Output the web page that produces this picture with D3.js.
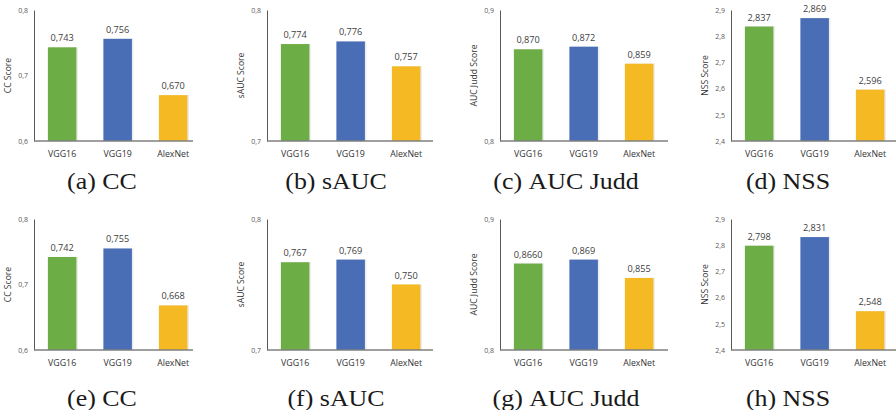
<!DOCTYPE html>
<html><head><meta charset="utf-8">
<script src="https://cdn.jsdelivr.net/npm/d3@7"></script>
<style>
html,body{margin:0;padding:0;background:#fff;}
svg{display:block;}
</style></head>
<body>
<svg id="chart" width="896" height="410"></svg>
<script>
// ---- data ----
const categories = ["VGG16", "VGG19", "AlexNet"];
const captionLetters = ["(a)", "(b)", "(c)", "(d)", "(e)", "(f)", "(g)", "(h)"];
const metricNames = ["CC", "sAUC", "AUC Judd", "NSS"];
const yAxisLabels = ["CC Score", "sAUC Score", "AUC Judd Score", "NSS Score"];
const yTicksCC = [0.6, 0.7, 0.8];
const yTicksSAUC = [0.7, 0.8];
const yTicksJudd = [0.8, 0.9];
const yTicksNSS = [2.4, 2.5, 2.6, 2.7, 2.8, 2.9];
const valuesA = [0.743, 0.756, 0.670];
const valuesB = [0.774, 0.776, 0.757];
const valuesC = [0.870, 0.872, 0.859];
const valuesD = [2.837, 2.869, 2.596];
const valuesE = [0.742, 0.755, 0.668];
const valuesF = [0.767, 0.769, 0.750];
const valuesG = [0.8660, 0.869, 0.855];
const valuesH = [2.798, 2.831, 2.548];
const labelsA = ["0,743", "0,756", "0,670"];
const labelsB = ["0,774", "0,776", "0,757"];
const labelsC = ["0,870", "0,872", "0,859"];
const labelsD = ["2,837", "2,869", "2,596"];
const labelsE = ["0,742", "0,755", "0,668"];
const labelsF = ["0,767", "0,769", "0,750"];
const labelsG = ["0,8660", "0,869", "0,855"];
const labelsH = ["2,798", "2,831", "2,548"];
const barColors = ["#6DAD45", "#4A6EB5", "#F4B923"];

// ---- layout ----
const colAxisX = [34, 267, 500, 731];
const colBaseEnd = [193, 433, 668, 896];
const colCaptionOffset = [68, 69, 66, 57];
const rows = [
  {top: 10, bottom: 141, catY: 157, capY: 189},
  {top: 219, bottom: 350, catY: 366, capY: 406}
];
const tickSets = [yTicksCC, yTicksSAUC, yTicksJudd, yTicksNSS];
const panelValues = [valuesA, valuesB, valuesC, valuesD, valuesE, valuesF, valuesG, valuesH];
const panelLabels = [labelsA, labelsB, labelsC, labelsD, labelsE, labelsF, labelsG, labelsH];

const svg = d3.select("#chart");
const fmt = v => d3.format(".1f")(v).replace(".", ",");

panelValues.forEach((vals, i) => {
  const col = i % 4, row = rows[Math.floor(i / 4)];
  const ax = colAxisX[col];
  const ticks = tickSets[col];
  const g = svg.append("g");
  const y = d3.scaleLinear().domain([ticks[0], ticks[ticks.length - 1]]).range([row.bottom, row.top]);
  const x = d3.scaleBand().domain(categories).range([ax, ax + 167.3]).paddingInner(0.486).paddingOuter(0.25);

  const data = categories.map((c, k) => ({c, v: vals[k], l: panelLabels[i][k], k}));
  g.selectAll("rect.shadow").data(data).enter().append("rect")
    .attr("x", d => x(d.c) + 0.8).attr("y", d => y(d.v) - 0.2)
    .attr("width", x.bandwidth() + 0.8).attr("height", d => row.bottom - y(d.v))
    .attr("fill", "#000").attr("opacity", 0.07);
  g.selectAll("rect.bar").data(data).enter().append("rect")
    .attr("x", d => x(d.c)).attr("y", d => y(d.v))
    .attr("width", x.bandwidth()).attr("height", d => row.bottom - y(d.v))
    .attr("fill", d => barColors[d.k]);

  g.selectAll("text.val").data(data).enter().append("text")
    .attr("x", d => x(d.c) + x.bandwidth() / 2).attr("y", d => y(d.v) - 6)
    .attr("text-anchor", "middle").attr("font-family", "Open Sans, sans-serif")
    .attr("font-size", 9.2).attr("fill", "#404040").text(d => d.l);

  const yAxis = d3.axisLeft(y).tickValues(ticks).tickSize(0).tickPadding(6).tickFormat(fmt);
  const ya = g.append("g").attr("transform", `translate(${ax},0)`).call(yAxis);
  ya.select(".domain").attr("stroke", "#595959").attr("stroke-width", 1);
  ya.selectAll("text").attr("font-family", "Open Sans, sans-serif").attr("font-size", 7).attr("fill", "#595959");

  g.append("line").attr("x1", ax).attr("x2", colBaseEnd[col])
    .attr("y1", row.bottom).attr("y2", row.bottom)
    .attr("stroke", "#7f7f7f").attr("stroke-width", 1.5);

  g.selectAll("text.cat").data(categories).enter().append("text")
    .attr("x", d => x(d) + x.bandwidth() / 2).attr("y", row.catY)
    .attr("text-anchor", "middle").attr("font-family", "Open Sans, sans-serif")
    .attr("font-size", 8.8).attr("fill", "#333").text(d => d);

  g.append("text")
    .attr("transform", `translate(${ax - 23},${(row.top + row.bottom) / 2}) rotate(-90)`)
    .attr("text-anchor", "middle").attr("font-family", "Open Sans, sans-serif")
    .attr("font-size", 8.6).attr("fill", "#333").text(yAxisLabels[col]);

  const capX = ax + colCaptionOffset[col];
  const t = g.append("text")
    .attr("transform", `translate(${capX},${row.capY}) scale(1.08,1)`)
    .attr("text-anchor", "middle").attr("font-family", "Liberation Serif, serif")
    .attr("font-size", 24).attr("fill", "#1a1a1a");
  t.append("tspan").text(captionLetters[i]);
  t.append("tspan").attr("dx", 6).text(metricNames[col]);
});
</script>
</body></html>
